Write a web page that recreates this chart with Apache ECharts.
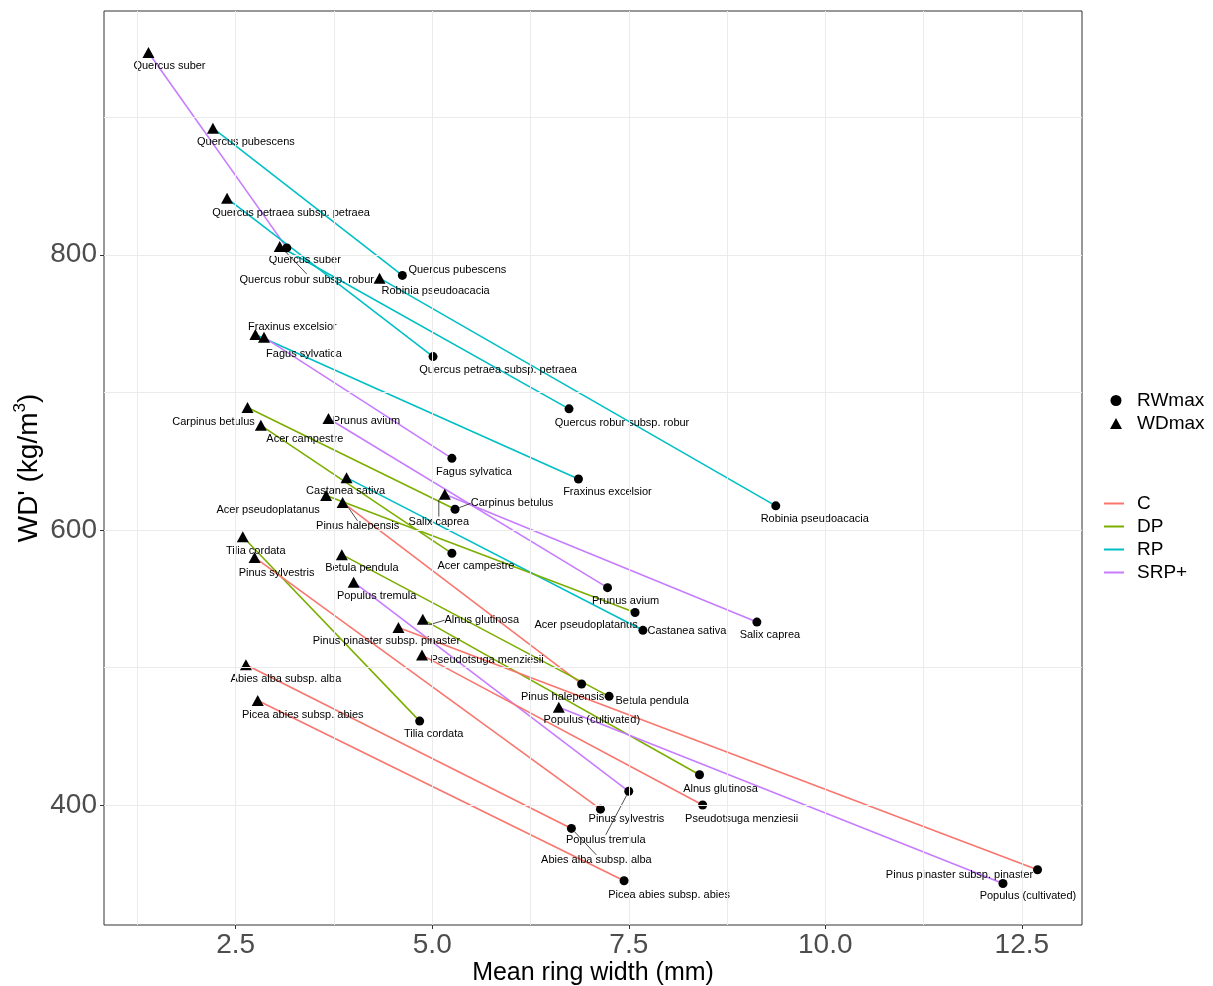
<!DOCTYPE html>
<html>
<head>
<meta charset="utf-8">
<script src="https://cdn.jsdelivr.net/npm/echarts@6/dist/echarts.min.js"></script>
<style>
html,body{margin:0;padding:0;background:#fff;}
#chart{width:1213px;height:986px;}
</style>
</head>
<body>
<div id="chart"></div>
<script>
// ---- data ----
const species = ['Quercus suber','Quercus pubescens','Quercus petraea subsp. petraea','Quercus robur subsp. robur','Robinia pseudoacacia','Fraxinus excelsior','Fagus sylvatica','Carpinus betulus','Prunus avium','Acer campestre','Castanea sativa','Acer pseudoplatanus','Salix caprea','Pinus halepensis','Tilia cordata','Pinus sylvestris','Betula pendula','Populus tremula','Alnus glutinosa','Pinus pinaster subsp. pinaster','Pseudotsuga menziesii','Abies alba subsp. alba','Picea abies subsp. abies','Populus (cultivated)'];
const groupOf = ['SRP+','RP','RP','RP','RP','RP','SRP+','DP','SRP+','DP','RP','DP','SRP+','C','DP','C','DP','SRP+','DP','C','C','C','C','SRP+'];
const wdmaxX = [1.39,2.21,2.39,3.06,4.33,2.75,2.86,2.65,3.68,2.82,3.91,3.65,5.16,3.86,2.59,2.74,3.85,4.00,4.88,4.57,4.87,2.63,2.78,6.61];
const wdmaxY = [947,892,841,806,783,742,740,689,681,676,638,625,626,620,595,580,582,562,535,529,509,502,476,471];
const rwmaxX = [3.15,4.62,5.01,6.74,9.37,6.86,5.25,5.29,7.23,5.25,7.68,7.58,9.13,6.90,4.84,7.14,7.25,7.50,8.40,12.70,8.44,6.77,7.44,12.26];
const rwmaxY = [805,785,726,688,617.5,637,652,615,558,583,527,540,533,488,461,397,479,410,422,353,400,383,345,343];
const groups = ['C','DP','RP','SRP+'];
const xTicks = [2.5,5.0,7.5,10.0,12.5];
const xMinorTicks = [1.25,3.75,6.25,8.75,11.25];
const yTicks = [400,600,800];
const yMinorTicks = [500,700,900];

// ---- layout / style (not data) ----
const groupColor = {'C':'#F8766D','DP':'#7CAE00','RP':'#00BFC4','SRP+':'#C77CFF'};
const wdLabelOffset = [[21,11],[33,12],[64,13],[27,31],[56,11],[37,-10],[40,15],[-34,12],[38,0],[44,12],[-1,11],[-58,12],[-6,26],[15,22],[13,12],[22,14],[20,11],[23,12],[59,-1],[-12,11],[65,3],[40,12],[45,12],[33,11]];
const rwLabelOffset = [[18,10],[55,-7],[65,11],[53,12],[39,11],[29,11],[22,12],[57,-8],[18,11],[24,11],[44,-1],[-49,11],[13,11],[-19,11],[14,11],[26,8],[43,3],[-23,47],[21,12],[-78,3],[39,12],[25,30],[45,12],[25,11]];
const wdLeader = [3,12,13,18];
const rwLeader = [7,17,21];
const LABEL_DY = 2;
const FONT = 'Liberation Sans, Arial, sans-serif';

const series = [];
// grid lines drawn via markLine
series.push({
  type:'line', data:[[2.5,400]], showSymbol:false, symbol:'none', silent:true, z:1,
  lineStyle:{opacity:0},
  markLine:{
    silent:true, symbol:['none','none'], label:{show:false}, animation:false,
    lineStyle:{color:'#EBEBEB', width:1, type:'solid'},
    emphasis:{disabled:true},
    data: xTicks.concat(xMinorTicks).map(v=>({xAxis:v})).concat(yTicks.concat(yMinorTicks).map(v=>({yAxis:v})))
  }
});
// connecting lines
species.forEach((s,i)=>{
  series.push({
    type:'line', name: groupOf[i], silent:true, z:2, symbol:'none', showSymbol:false,
    color: groupColor[groupOf[i]],
    lineStyle:{width:1.6, color: groupColor[groupOf[i]]},
    data:[[wdmaxX[i], wdmaxY[i]],[rwmaxX[i], rwmaxY[i]]]
  });
});
const labelBase = {show:true, position:'inside', color:'#000', fontSize:11, fontFamily:FONT, textBorderWidth:0};
series.push({
  type:'scatter', name:'RWmax', symbol:'circle', symbolSize:9, z:3, silent:true,
  itemStyle:{color:'#000', opacity:1},
  label: labelBase,
  labelLine:{show:false, lineStyle:{color:'#000', width:0.7}},
  labelLayout: function(p){ const o = rwLabelOffset[p.dataIndex]; return {dx:o[0], dy:o[1]+LABEL_DY}; },
  data: species.map((s,i)=>({value:[rwmaxX[i], rwmaxY[i]], label:{formatter:s}, labelLine:{show: rwLeader.indexOf(i)>=0, lineStyle:{color:'#000',width:0.7}}}))
});
series.push({
  type:'scatter', name:'WDmax', symbol:'triangle', symbolSize:[12,11], z:3, silent:true,
  itemStyle:{color:'#000', opacity:1},
  label: labelBase,
  labelLine:{show:false, lineStyle:{color:'#000', width:0.7}},
  labelLayout: function(p){ const o = wdLabelOffset[p.dataIndex]; return {dx:o[0], dy:o[1]+LABEL_DY}; },
  data: species.map((s,i)=>({value:[wdmaxX[i], wdmaxY[i]], label:{formatter:s}, labelLine:{show: wdLeader.indexOf(i)>=0, lineStyle:{color:'#000',width:0.7}}}))
});

const chart = echarts.init(document.getElementById('chart'), null, {renderer:'canvas'});
chart.setOption({
  animation:false,
  backgroundColor:'#fff',
  textStyle:{fontFamily:FONT},
  grid:{left:104, right:131, top:11, bottom:61, show:true, borderColor:'#333333', borderWidth:1, backgroundColor:'transparent', containLabel:false, outerBoundsMode:'none'},
  legend:[
    {orient:'vertical', left:1110, top:391, padding:0, itemWidth:12, itemHeight:11, itemGap:4,
     textStyle:{fontSize:19, color:'#000', fontFamily:FONT, padding:[0,0,0,10]},
     itemStyle:{color:'#000', opacity:1},
     data:[{name:'RWmax', icon:'circle'},{name:'WDmax', icon:'triangle'}],
     selectedMode:false},
    {orient:'vertical', left:1104, top:494, padding:0, itemWidth:20, itemHeight:2, itemGap:4,
     textStyle:{fontSize:19, color:'#000', fontFamily:FONT, padding:[0,0,0,8]},
     data:groups.map(g=>({name:g, icon:'rect', itemStyle:{color:groupColor[g]}})), selectedMode:false}
  ],
  xAxis:{
    type:'value', min:0.8245, max:13.2655,
    name:'Mean ring width (mm)', nameLocation:'middle', nameGap:36, nameMoveOverlap:false,
    nameTextStyle:{fontSize:25, color:'#000', fontFamily:FONT},
    axisLine:{show:false},
    axisTick:{show:true, length:4, lineStyle:{color:'#333333'}, customValues:xTicks},
    axisLabel:{show:true, fontSize:28, color:'#4D4D4D', margin:6, fontFamily:FONT, customValues:xTicks, formatter:v=>v.toFixed(1)},
    splitLine:{show:false}, minorSplitLine:{show:false}
  },
  yAxis:{
    type:'value', min:312.8, max:977.2,
    name:"WD' (kg/m{sup|3})", nameLocation:'middle', nameGap:58, nameMoveOverlap:false,
    nameTextStyle:{fontSize:28, color:'#000', fontFamily:FONT, rich:{sup:{fontSize:17, color:'#000', fontFamily:FONT, padding:[0,0,17,0]}}},
    axisLine:{show:false},
    axisTick:{show:true, length:4, lineStyle:{color:'#333333'}, customValues:yTicks},
    axisLabel:{show:true, fontSize:28, color:'#4D4D4D', margin:7, fontFamily:FONT, customValues:yTicks},
    splitLine:{show:false}, minorSplitLine:{show:false}
  },
  series: series
});
</script>
</body>
</html>
